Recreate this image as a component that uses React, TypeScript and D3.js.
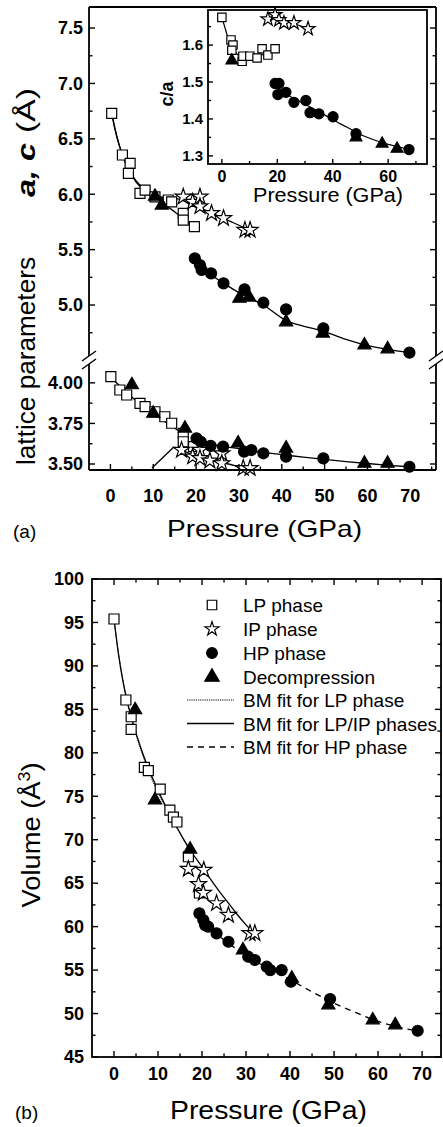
import React from 'react';
import * as d3 from 'd3';

type Pt = [number, number];

// ================= Panel (a) inset : c/a ratio =================
const caLP: Pt[] = [[0, 1.675], [3.3, 1.614], [4.0, 1.6], [3.6, 1.586], [7.3, 1.556], [7.6, 1.57], [10.1, 1.57], [12.7, 1.565], [14.5, 1.59], [16.6, 1.573], [19.2, 1.59]];
const caIP: Pt[] = [[16.6, 1.67], [19.2, 1.682], [20.6, 1.668], [22.4, 1.66], [26.0, 1.66], [31.1, 1.644]];
const caHP: Pt[] = [[19.2, 1.496], [20.6, 1.496], [20.2, 1.466], [23.1, 1.472], [26.0, 1.445], [30.3, 1.45], [31.8, 1.417], [35.0, 1.414], [40.1, 1.406], [48.4, 1.36], [67.5, 1.317]];
const caDec: Pt[] = [[3.6, 1.558], [48.4, 1.35], [57.8, 1.333], [63.2, 1.319]];
const caLPFit: Pt[] = [[0, 1.675], [1, 1.65], [2, 1.625], [3, 1.605], [4, 1.59], [6, 1.572], [8, 1.564], [10, 1.563], [12, 1.566], [14, 1.572], [16, 1.579], [19.2, 1.588]];
const caIPFit: Pt[] = [[16.6, 1.676], [20, 1.671], [24, 1.662], [28, 1.653], [31.1, 1.644]];
const caHPFit: Pt[] = [[19.2, 1.49], [22, 1.474], [26, 1.455], [30, 1.44], [35, 1.42], [40, 1.398], [45, 1.378], [50, 1.358], [55, 1.343], [60, 1.331], [65, 1.322], [67.5, 1.317]];

// ================= Panel (a) upper : c parameter =================
const cLP: Pt[] = [[0.3, 6.73], [2.8, 6.354], [4.6, 6.279], [4.2, 6.189], [6.9, 6.008], [8.1, 6.038], [10.4, 5.977], [13.5, 5.948], [14.3, 5.932], [17.0, 5.828], [17.0, 5.767], [19.6, 5.707]];
const cIP: Pt[] = [[17.0, 5.977], [19.2, 5.93], [20.9, 5.977], [20.9, 5.89], [23.6, 5.828], [26.4, 5.783], [31.4, 5.677], [32.6, 5.677]];
const cHP: Pt[] = [[19.7, 5.421], [20.9, 5.361], [21.3, 5.316], [23.5, 5.286], [26.4, 5.196], [31.3, 5.142], [35.7, 5.021], [41.0, 4.961], [49.7, 4.79], [69.8, 4.57]];
const cDec: Pt[] = [[10.4, 5.98], [12.0, 5.9], [30.1, 5.06], [32.4, 5.07], [41.0, 4.847], [49.6, 4.745], [59.3, 4.639], [64.7, 4.603]];
const cLPFit: Pt[] = [[0.3, 6.73], [1, 6.6], [2, 6.45], [3, 6.33], [4, 6.24], [5, 6.17], [6, 6.11], [8, 6.03], [10, 5.97], [12, 5.92], [14, 5.87], [16, 5.81], [18, 5.75], [19.6, 5.71]];
const cLPIPFit: Pt[] = [[0.3, 6.73], [1, 6.6], [2, 6.45], [3, 6.34], [4, 6.25], [5, 6.18], [6, 6.12], [8, 6.05], [10, 6.0], [12, 5.975], [14, 5.965], [16, 5.955], [18, 5.925], [20, 5.89], [22, 5.86], [24, 5.825], [26, 5.79], [28, 5.755], [30, 5.72], [32.6, 5.675]];
const cHPFit: Pt[] = [[19.7, 5.43], [21, 5.36], [23, 5.29], [26.3, 5.2], [31, 5.09], [35.7, 5.0], [41, 4.86], [45, 4.81], [49.6, 4.765], [55, 4.69], [59.3, 4.64], [64.7, 4.6], [69.8, 4.57]];

// ================= Panel (a) lower : a parameter =================
const aLP: Pt[] = [[0.1, 4.038], [2.2, 3.956], [3.8, 3.925], [6.9, 3.874], [8.1, 3.853], [10.4, 3.822], [12.7, 3.791], [14.3, 3.751], [17.0, 3.689], [17.0, 3.637], [19.4, 3.607]];
const aIP: Pt[] = [[16.6, 3.586], [19.2, 3.545], [20.9, 3.586], [20.9, 3.535], [23.2, 3.52], [26.0, 3.565], [26.0, 3.504], [31.0, 3.474], [32.6, 3.474]];
const aHP: Pt[] = [[20.1, 3.658], [21.1, 3.637], [23.4, 3.612], [26.3, 3.607], [31.2, 3.576], [32.9, 3.586], [35.7, 3.566], [41.0, 3.545], [49.7, 3.535], [69.8, 3.483]];
const aDec: Pt[] = [[5.0, 3.987], [10.0, 3.812], [17.4, 3.72], [29.8, 3.628], [41.0, 3.597], [59.3, 3.504], [64.7, 3.504]];
const aLPFit: Pt[] = [[0.1, 4.035], [3, 3.96], [6, 3.89], [9, 3.83], [12, 3.775], [15, 3.72], [17.4, 3.68]];
const aIPFit: Pt[] = [[16.6, 3.586], [19, 3.56], [22, 3.535], [26, 3.51], [29, 3.49], [32.6, 3.47]];
const aHPFit: Pt[] = [[20, 3.655], [23, 3.625], [26, 3.61], [30, 3.595], [35, 3.573], [40, 3.558], [45, 3.542], [50, 3.528], [55, 3.515], [60, 3.503], [65, 3.492], [69.8, 3.483]];
const arrowA: Pt[] = [[9.7, 3.475], [14.8, 3.605]];

// ================= Panel (b) : volume =================
const vLP: Pt[] = [[0, 95.4], [2.7, 86.08], [3.9, 84.15], [3.9, 82.7], [6.9, 78.33], [7.8, 77.94], [10.5, 75.83], [12.7, 73.4], [13.5, 72.6], [14.3, 72.04], [16.9, 68.04], [19.4, 63.87]];
const vIP: Pt[] = [[16.9, 66.63], [20.4, 66.51], [19.2, 64.87], [20.3, 63.87], [23.3, 62.68], [26.0, 61.33], [30.9, 59.23], [32.0, 59.23]];
const vHP: Pt[] = [[19.4, 61.53], [20.3, 60.76], [21.4, 59.99], [20.7, 60.18], [23.3, 59.23], [26.0, 58.26], [30.5, 56.54], [32.0, 56.16], [34.7, 55.39], [35.5, 55.0], [38.1, 55.0], [40.2, 53.66], [49.1, 51.67], [69.0, 48.02]];
const vDec: Pt[] = [[4.8, 84.93], [9.3, 74.57], [17.3, 68.9], [29.3, 57.3], [40.4, 54.05], [48.7, 50.98], [58.8, 49.25], [63.9, 48.68]];
const vLPFit: Pt[] = [[0, 95.4], [1, 91.6], [2, 88.5], [3, 86.0], [4, 83.9], [6, 80.5], [8, 77.7], [10, 75.4], [12, 73.4], [14, 71.6], [16, 69.8], [17.5, 68.5]];
const vLPIPFit: Pt[] = [[0, 95.4], [1, 91.4], [2, 88.3], [3, 85.9], [4, 84.0], [6, 80.7], [8, 78.0], [10, 75.7], [12, 73.6], [14, 71.7], [16, 69.9], [18, 68.3], [20, 66.9], [22, 65.4], [24, 64.0], [26, 62.7], [28, 61.4], [30, 60.2], [32, 59.1]];
const vHPFit: Pt[] = [[19.4, 61.6], [21, 60.4], [23, 59.3], [26, 58.1], [30, 56.7], [35, 55.2], [40, 53.9], [45, 52.5], [50, 51.2], [55, 50.1], [60, 49.1], [65, 48.4], [69, 48.0]];

// ================= Ticks & labels =================
const xMajor = [0, 10, 20, 30, 40, 50, 60, 70];
const xMinor = [5, 15, 25, 35, 45, 55, 65, 75];
const yAuMajor = [5.0, 5.5, 6.0, 6.5, 7.0, 7.5];
const yAuMinor = [4.75, 5.25, 5.75, 6.25, 6.75, 7.25];
const yAlMajor = [3.5, 3.75, 4.0];
const yAlMinor = [3.625, 3.875];
const yIMajor = [1.3, 1.4, 1.5, 1.6];
const yIMinor = [1.35, 1.45, 1.55, 1.65];
const xIMajor = [0, 20, 40, 60];
const xIMinor = [10, 30, 50, 70];
const yBMajor = [45, 50, 55, 60, 65, 70, 75, 80, 85, 90, 95, 100];
const yBMinor = [47.5, 52.5, 57.5, 62.5, 67.5, 72.5, 77.5, 82.5, 87.5, 92.5, 97.5];
const legendSymbols = [
  { type: 'sq', label: 'LP phase' },
  { type: 'st', label: 'IP phase' },
  { type: 'ci', label: 'HP phase' },
  { type: 'tr', label: 'Decompression' },
];
const legendLines = [
  { dash: '1.2,1', width: 1, label: 'BM fit for LP phase' },
  { dash: undefined, width: 1.3, label: 'BM fit for LP/IP phases' },
  { dash: '6,5', width: 1.3, label: 'BM fit for HP phase' },
];

// ================= Scales =================
const xA = d3.scaleLinear().domain([-5, 76]).range([89, 436]);
const yAu = d3.scaleLinear().domain([4.54, 7.69]).range([356, 7]);
const yAl = d3.scaleLinear().domain([3.463, 4.11]).range([470, 365]);
const xI = d3.scaleLinear().domain([-5, 74]).range([208, 427]);
const yI = d3.scaleLinear().domain([1.278, 1.695]).range([164, 10]);
const xB = d3.scaleLinear().domain([-5, 74.3]).range([92, 441]);
const yB = d3.scaleLinear().domain([45, 100]).range([1057, 579]);

const FONT = "'Liberation Sans', Arial, Helvetica, sans-serif";

function symPath(type: string, size?: number): string {
  switch (type) {
    case 'sq': return d3.symbol().type(d3.symbolSquare).size(size ?? 100)() as string;
    case 'st': return d3.symbol().type(d3.symbolStar).size(size ?? 80)() as string;
    case 'ci': return d3.symbol().type(d3.symbolCircle).size(size ?? 95)() as string;
    default: return d3.symbol().type(d3.symbolTriangle).size(size ?? 75)() as string;
  }
}

function Mk({ type, x, y, size }: { type: string; x: number; y: number; size?: number }) {
  const open = type === 'sq' || type === 'st';
  return <path d={symPath(type, size)} transform={`translate(${x},${y})`} fill={open ? '#fff' : '#000'} stroke="#000" strokeWidth={1.2} strokeLinejoin="miter" />;
}

function Series({ data, xs, ys, type, size }: { data: Pt[]; xs: any; ys: any; type: string; size?: number }) {
  return <g>{data.map((d, i) => <Mk key={i} type={type} x={xs(d[0])} y={ys(d[1])} size={size} />)}</g>;
}

function Fit({ data, xs, ys, dash, width }: { data: Pt[]; xs: any; ys: any; dash?: string; width?: number }) {
  const line = d3.line<Pt>().x(d => xs(d[0])).y(d => ys(d[1])).curve(d3.curveMonotoneX);
  return <path d={line(data) as string} fill="none" stroke="#000" strokeWidth={width ?? 1.3} strokeDasharray={dash} />;
}

function XTicks({ xs, vals, y, len, dir }: { xs: any; vals: number[]; y: number; len: number; dir: number }) {
  return <g>{vals.map(v => <line key={v} x1={xs(v)} x2={xs(v)} y1={y} y2={y + dir * len} stroke="#000" strokeWidth={1.4} />)}</g>;
}
function YTicks({ ys, vals, x, len, dir }: { ys: any; vals: number[]; x: number; len: number; dir: number }) {
  return <g>{vals.map(v => <line key={v} x1={x} x2={x + dir * len} y1={ys(v)} y2={ys(v)} stroke="#000" strokeWidth={1.4} />)}</g>;
}

export default function App() {
  const aL = 89, aR = 436, aT = 7, aB = 470, gapT = 356, gapB = 364;
  const iL = 208, iR = 427, iT = 10, iB = 164;
  const bL = 92, bR = 441, bT = 579, bB = 1057;
  const tickFont = { fontFamily: FONT, fontWeight: 700 as const };
  return (
    <svg width={443} height={1127} viewBox="0 0 443 1127" style={{ position: 'absolute', left: 0, top: 0, background: '#fff' }}>
      <rect x={0} y={0} width={443} height={1127} fill="#fff" />

      {/* ============ Panel (a) ============ */}
      <g>
        <Fit data={cLPFit} xs={xA} ys={yAu} />
        <Fit data={cLPIPFit} xs={xA} ys={yAu} />
        <Fit data={cHPFit} xs={xA} ys={yAu} />
        <Fit data={aLPFit} xs={xA} ys={yAl} />
        <Fit data={aIPFit} xs={xA} ys={yAl} />
        <Fit data={aHPFit} xs={xA} ys={yAl} />
        <line x1={xA(arrowA[0][0])} y1={yAl(arrowA[0][1])} x2={xA(arrowA[1][0])} y2={yAl(arrowA[1][1])} stroke="#000" strokeWidth={1.3} />
        <Series data={cLP} xs={xA} ys={yAu} type="sq" />
        <Series data={cIP} xs={xA} ys={yAu} type="st" />
        <Series data={cHP} xs={xA} ys={yAu} type="ci" />
        <Series data={cDec} xs={xA} ys={yAu} type="tr" />
        <Series data={aLP} xs={xA} ys={yAl} type="sq" />
        <Series data={aIP} xs={xA} ys={yAl} type="st" />
        <Series data={aHP} xs={xA} ys={yAl} type="ci" />
        <Series data={aDec} xs={xA} ys={yAl} type="tr" />

        <line x1={aL} x2={aR} y1={aT} y2={aT} stroke="#000" strokeWidth={2.2} />
        <line x1={aL} x2={aR} y1={aB} y2={aB} stroke="#000" strokeWidth={1.8} />
        <line x1={aL} x2={aL} y1={aT} y2={gapT} stroke="#000" strokeWidth={1.8} />
        <line x1={aL} x2={aL} y1={gapB} y2={aB} stroke="#000" strokeWidth={1.8} />
        <line x1={aR} x2={aR} y1={aT} y2={gapT} stroke="#000" strokeWidth={1.8} />
        <line x1={aR} x2={aR} y1={gapB} y2={aB} stroke="#000" strokeWidth={1.8} />
        {[aL, aR].map(x => (
          <g key={x}>
            <line x1={x - 7} y1={gapT + 5} x2={x + 7} y2={gapT - 5} stroke="#000" strokeWidth={1.4} />
            <line x1={x - 7} y1={gapB + 5} x2={x + 7} y2={gapB - 5} stroke="#000" strokeWidth={1.4} />
          </g>
        ))}
        <XTicks xs={xA} vals={xMajor} y={aB} len={6} dir={-1} />
        <XTicks xs={xA} vals={xMinor} y={aB} len={3.5} dir={-1} />
        <YTicks ys={yAu} vals={yAuMajor} x={aL} len={6} dir={1} />
        <YTicks ys={yAu} vals={yAuMinor} x={aL} len={3.5} dir={1} />
        <YTicks ys={yAl} vals={yAlMajor} x={aL} len={6} dir={1} />
        <YTicks ys={yAl} vals={yAlMinor} x={aL} len={3.5} dir={1} />
        <YTicks ys={yAu} vals={yAuMajor} x={aR} len={6} dir={-1} />
        <YTicks ys={yAu} vals={yAuMinor} x={aR} len={3.5} dir={-1} />
        <YTicks ys={yAl} vals={yAlMajor} x={aR} len={6} dir={-1} />
        <YTicks ys={yAl} vals={yAlMinor} x={aR} len={3.5} dir={-1} />

        {xMajor.map(v => (
          <text key={v} x={xA(v)} y={502} textAnchor="middle" fontSize={18} {...tickFont}>{v}</text>
        ))}
        {yAuMajor.map(v => (
          <text key={v} x={83} y={yAu(v) + 6.3} textAnchor="end" fontSize={18} {...tickFont}>{v.toFixed(1)}</text>
        ))}
        {yAlMajor.map(v => (
          <text key={v} x={83} y={yAl(v) + 6.3} textAnchor="end" fontSize={18} {...tickFont}>{v.toFixed(2)}</text>
        ))}

        <g transform="rotate(-90)" fontFamily={FONT} fontSize={26}>
          <text x={-465} y={35} textLength={208} lengthAdjust="spacingAndGlyphs">lattice parameters</text>
          <text x={-197} y={35} textLength={54} lengthAdjust="spacingAndGlyphs" fontWeight={700} fontStyle="italic">a, c</text>
          <text x={-133} y={35} textLength={45} lengthAdjust="spacingAndGlyphs">(Å)</text>
        </g>
        <text x={167} y={537} fontFamily={FONT} fontSize={24} textLength={195} lengthAdjust="spacingAndGlyphs">Pressure (GPa)</text>
        <text x={13} y={538} fontFamily={FONT} fontSize={19}>(a)</text>

        {/* ---- inset ---- */}
        <rect x={iL} y={iT} width={iR - iL} height={iB - iT} fill="#fff" stroke="#000" strokeWidth={1.8} />
        <Fit data={caLPFit} xs={xI} ys={yI} width={1.2} />
        <Fit data={caIPFit} xs={xI} ys={yI} width={1.2} />
        <Fit data={caHPFit} xs={xI} ys={yI} width={1.2} />
        <Series data={caLP} xs={xI} ys={yI} type="sq" size={70} />
        <Series data={caIP} xs={xI} ys={yI} type="st" size={60} />
        <Series data={caHP} xs={xI} ys={yI} type="ci" size={80} />
        <Series data={caDec} xs={xI} ys={yI} type="tr" size={60} />
        <XTicks xs={xI} vals={xIMajor} y={iB} len={5} dir={-1} />
        <XTicks xs={xI} vals={xIMinor} y={iB} len={3} dir={-1} />
        <YTicks ys={yI} vals={yIMajor} x={iL} len={5} dir={1} />
        <YTicks ys={yI} vals={yIMinor} x={iL} len={3} dir={1} />
        {xIMajor.map(v => (
          <text key={v} x={xI(v)} y={182} textAnchor="middle" fontSize={16} {...tickFont}>{v}</text>
        ))}
        {yIMajor.map(v => (
          <text key={v} x={203} y={yI(v) + 5.3} textAnchor="end" fontSize={15} {...tickFont}>{v.toFixed(1)}</text>
        ))}
        <text transform="translate(173,94) rotate(-90)" textAnchor="middle" fontFamily={FONT} fontWeight={700} fontSize={18}>c/a</text>
        <text x={253} y={202} fontFamily={FONT} fontSize={20} textLength={150} lengthAdjust="spacingAndGlyphs">Pressure (GPa)</text>
      </g>

      {/* ============ Panel (b) ============ */}
      <g>
        <Fit data={vLPFit} xs={xB} ys={yB} dash="1.2,1" width={1} />
        <Fit data={vLPIPFit} xs={xB} ys={yB} />
        <Fit data={vHPFit} xs={xB} ys={yB} dash="6,5" />
        <Series data={vLP} xs={xB} ys={yB} type="sq" />
        <Series data={vIP} xs={xB} ys={yB} type="st" />
        <Series data={vHP} xs={xB} ys={yB} type="ci" />
        <Series data={vDec} xs={xB} ys={yB} type="tr" />

        <rect x={bL} y={bT} width={bR - bL} height={bB - bT} fill="none" stroke="#000" strokeWidth={1.8} />
        <XTicks xs={xB} vals={xMajor} y={bB} len={6} dir={-1} />
        <XTicks xs={xB} vals={xMinor.filter(v => v < 74)} y={bB} len={3.5} dir={-1} />
        <XTicks xs={xB} vals={xMajor} y={bT} len={6} dir={1} />
        <XTicks xs={xB} vals={xMinor.filter(v => v < 74)} y={bT} len={3.5} dir={1} />
        <YTicks ys={yB} vals={yBMajor} x={bL} len={6} dir={1} />
        <YTicks ys={yB} vals={yBMinor} x={bL} len={3.5} dir={1} />
        <YTicks ys={yB} vals={yBMajor} x={bR} len={6} dir={-1} />
        <YTicks ys={yB} vals={yBMinor} x={bR} len={3.5} dir={-1} />
        {xMajor.map(v => (
          <text key={v} x={xB(v)} y={1080} textAnchor="middle" fontSize={18} {...tickFont}>{v}</text>
        ))}
        {yBMajor.map(v => (
          <text key={v} x={84} y={yB(v) + 6.3} textAnchor="end" fontSize={18} {...tickFont}>{v}</text>
        ))}

        {legendSymbols.map((d, i) => {
          const y = 605 + i * 24;
          return (
            <g key={d.label}>
              <Mk type={d.type} x={212} y={y} size={d.type === 'sq' ? 90 : d.type === 'st' ? 60 : 90} />
              <text x={243} y={y + 7} fontFamily={FONT} fontSize={19}>{d.label}</text>
            </g>
          );
        })}
        {legendLines.map((d, i) => {
          const y = 700 + i * 23.5;
          return (
            <g key={d.label}>
              <line x1={187} x2={234} y1={y} y2={y} stroke="#000" strokeWidth={d.width} strokeDasharray={d.dash} />
              <text x={243} y={y + 7} fontFamily={FONT} fontSize={19}>{d.label}</text>
            </g>
          );
        })}

        <text transform="translate(40,835) rotate(-90)" textAnchor="middle" fontFamily={FONT} fontSize={26} textLength={145} lengthAdjust="spacingAndGlyphs">
          Volume (Å<tspan dy={-10} fontSize={17}>3</tspan><tspan dy={10}>)</tspan>
        </text>
        <text x={170} y={1119} fontFamily={FONT} fontSize={25} textLength={197} lengthAdjust="spacingAndGlyphs">Pressure (GPa)</text>
        <text x={15} y={1119} fontFamily={FONT} fontSize={19}>(b)</text>
      </g>
    </svg>
  );
}
